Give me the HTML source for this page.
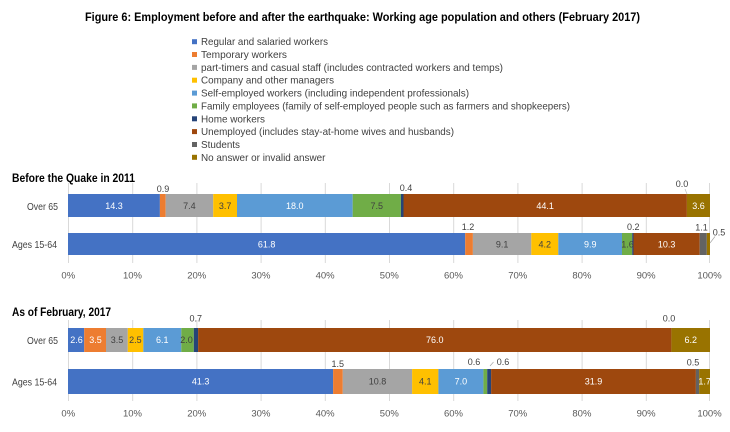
<!DOCTYPE html>
<html><head><meta charset="utf-8"><style>
html,body{margin:0;padding:0;background:#fff;}
svg{display:block;}
text{font-family:"Liberation Sans",sans-serif;}
.t{font-weight:bold;fill:#000;}
.lg{font-size:10.5px;fill:#404040;}
.cat{font-size:10.5px;fill:#404040;}
.tick{font-size:9.5px;fill:#595959;text-anchor:middle;}
.dl{font-size:9px;text-anchor:middle;}
.w{fill:#ffffff;}
.d{fill:#404040;}
.g{stroke:#D9D9D9;stroke-width:1;}
</style></head><body>
<svg width="730" height="432" viewBox="0 0 730 432" xmlns="http://www.w3.org/2000/svg">
<rect width="730" height="432" fill="#fff"/>
<text class="t" x="85" y="21" font-size="12" textLength="555" lengthAdjust="spacingAndGlyphs">Figure 6: Employment before and after the earthquake: Working age population and others (February 2017)</text>

<!-- Legend -->
<g>
<rect x="192" y="39.2" width="5" height="5" fill="#4472C4"/><text class="lg" x="201" y="45.2" textLength="127" lengthAdjust="spacingAndGlyphs">Regular and salaried workers</text>
<rect x="192" y="52" width="5" height="5" fill="#ED7D31"/><text class="lg" x="201" y="58" textLength="86" lengthAdjust="spacingAndGlyphs">Temporary workers</text>
<rect x="192" y="64.9" width="5" height="5" fill="#A5A5A5"/><text class="lg" x="201" y="70.9" textLength="302" lengthAdjust="spacingAndGlyphs">part-timers and casual staff (includes contracted workers and temps)</text>
<rect x="192" y="77.7" width="5" height="5" fill="#FFC000"/><text class="lg" x="201" y="83.7" textLength="133" lengthAdjust="spacingAndGlyphs">Company and other managers</text>
<rect x="192" y="90.6" width="5" height="5" fill="#5B9BD5"/><text class="lg" x="201" y="96.6" textLength="268" lengthAdjust="spacingAndGlyphs">Self-employed workers (including independent professionals)</text>
<rect x="192" y="103.4" width="5" height="5" fill="#70AD47"/><text class="lg" x="201" y="109.4" textLength="369" lengthAdjust="spacingAndGlyphs">Family employees (family of self-employed people such as farmers and shopkeepers)</text>
<rect x="192" y="116.3" width="5" height="5" fill="#264478"/><text class="lg" x="201" y="122.3" textLength="64" lengthAdjust="spacingAndGlyphs">Home workers</text>
<rect x="192" y="129.1" width="5" height="5" fill="#9E480E"/><text class="lg" x="201" y="135.1" textLength="253" lengthAdjust="spacingAndGlyphs">Unemployed (includes stay-at-home wives and husbands)</text>
<rect x="192" y="142" width="5" height="5" fill="#636363"/><text class="lg" x="201" y="148" textLength="39" lengthAdjust="spacingAndGlyphs">Students</text>
<rect x="192" y="154.8" width="5" height="5" fill="#997300"/><text class="lg" x="201" y="160.8" textLength="124.5" lengthAdjust="spacingAndGlyphs">No answer or invalid answer</text>
</g>

<!-- Chart 1 -->
<text class="t" x="12" y="182" font-size="11.5" textLength="123" lengthAdjust="spacingAndGlyphs">Before the Quake in 2011</text>
<g>
<line class="g" x1="68.5" y1="183" x2="68.5" y2="263"/>
<line class="g" x1="132.7" y1="183" x2="132.7" y2="263"/>
<line class="g" x1="196.9" y1="183" x2="196.9" y2="263"/>
<line class="g" x1="261.1" y1="183" x2="261.1" y2="263"/>
<line class="g" x1="325.3" y1="183" x2="325.3" y2="263"/>
<line class="g" x1="389.5" y1="183" x2="389.5" y2="263"/>
<line class="g" x1="453.7" y1="183" x2="453.7" y2="263"/>
<line class="g" x1="517.9" y1="183" x2="517.9" y2="263"/>
<line class="g" x1="582.1" y1="183" x2="582.1" y2="263"/>
<line class="g" x1="646.3" y1="183" x2="646.3" y2="263"/>
<line class="g" x1="709.5" y1="183" x2="709.5" y2="263"/>
</g>
<!-- Over 65 (2011) -->
<g>
<rect x="68" y="194" width="91.9" height="23" fill="#4472C4"/>
<rect x="159.9" y="194" width="5.8" height="23" fill="#ED7D31"/>
<rect x="165.7" y="194" width="47.5" height="23" fill="#A5A5A5"/>
<rect x="213.2" y="194" width="23.8" height="23" fill="#FFC000"/>
<rect x="237" y="194" width="115.7" height="23" fill="#5B9BD5"/>
<rect x="352.7" y="194" width="48.2" height="23" fill="#70AD47"/>
<rect x="400.9" y="194" width="2.6" height="23" fill="#264478"/>
<rect x="403.5" y="194" width="283.4" height="23" fill="#9E480E"/>
<rect x="686.9" y="194" width="23.1" height="23" fill="#997300"/>
<text class="dl w" x="114" y="209">14.3</text>
<text class="dl d" x="189.4" y="209">7.4</text>
<text class="dl d" x="225.1" y="209">3.7</text>
<text class="dl w" x="294.8" y="209">18.0</text>
<text class="dl d" x="376.8" y="209">7.5</text>
<text class="dl w" x="545.2" y="209">44.1</text>
<text class="dl w" x="698.5" y="209">3.6</text>
<text class="dl d" x="163" y="192">0.9</text>
<text class="dl d" x="406" y="191">0.4</text>
<text class="dl d" x="682" y="187">0.0</text>
<line x1="685" y1="189" x2="687" y2="194" stroke="#BFBFBF" stroke-width="0.7"/>
</g>
<!-- Ages 15-64 (2011) -->
<g>
<rect x="68" y="233" width="397.2" height="22" fill="#4472C4"/>
<rect x="465.2" y="233" width="7.7" height="22" fill="#ED7D31"/>
<rect x="472.9" y="233" width="58.4" height="22" fill="#A5A5A5"/>
<rect x="531.3" y="233" width="27" height="22" fill="#FFC000"/>
<rect x="558.3" y="233" width="63.7" height="22" fill="#5B9BD5"/>
<rect x="622" y="233" width="10.2" height="22" fill="#70AD47"/>
<rect x="632.2" y="233" width="1.3" height="22" fill="#264478"/>
<rect x="633.5" y="233" width="66.2" height="22" fill="#9E480E"/>
<rect x="699.7" y="233" width="7.1" height="22" fill="#636363"/>
<rect x="706.8" y="233" width="3.2" height="22" fill="#997300"/>
<text class="dl w" x="266.6" y="247.5">61.8</text>
<text class="dl d" x="502.1" y="247.5">9.1</text>
<text class="dl d" x="544.8" y="247.5">4.2</text>
<text class="dl w" x="590.2" y="247.5">9.9</text>
<text class="dl d" x="627.5" y="247.5">1.6</text>
<text class="dl w" x="666.6" y="247.5">10.3</text>
<text class="dl d" x="468" y="230">1.2</text>
<text class="dl d" x="633.3" y="230">0.2</text>
<text class="dl d" x="701.5" y="230.5">1.1</text>
<text class="dl d" x="719" y="235.5">0.5</text>
<line x1="710" y1="243" x2="715" y2="236.5" stroke="#A6A6A6" stroke-width="0.7"/>
</g>
<text class="cat" x="58" y="210" text-anchor="end" textLength="31" lengthAdjust="spacingAndGlyphs">Over 65</text>
<text class="cat" x="57" y="248" text-anchor="end" textLength="45" lengthAdjust="spacingAndGlyphs">Ages 15-64</text>
<g>
<text class="tick" x="68.3" y="278.5">0%</text>
<text class="tick" x="132.5" y="278.5">10%</text>
<text class="tick" x="196.7" y="278.5">20%</text>
<text class="tick" x="260.9" y="278.5">30%</text>
<text class="tick" x="325.1" y="278.5">40%</text>
<text class="tick" x="389.3" y="278.5">50%</text>
<text class="tick" x="453.5" y="278.5">60%</text>
<text class="tick" x="517.7" y="278.5">70%</text>
<text class="tick" x="581.9" y="278.5">80%</text>
<text class="tick" x="646.1" y="278.5">90%</text>
<text class="tick" x="709.5" y="278.5">100%</text>
</g>

<!-- Chart 2 -->
<text class="t" x="12" y="316" font-size="11.5" textLength="99" lengthAdjust="spacingAndGlyphs">As of February, 2017</text>
<g>
<line class="g" x1="68.5" y1="320" x2="68.5" y2="401"/>
<line class="g" x1="132.7" y1="320" x2="132.7" y2="401"/>
<line class="g" x1="196.9" y1="320" x2="196.9" y2="401"/>
<line class="g" x1="261.1" y1="320" x2="261.1" y2="401"/>
<line class="g" x1="325.3" y1="320" x2="325.3" y2="401"/>
<line class="g" x1="389.5" y1="320" x2="389.5" y2="401"/>
<line class="g" x1="453.7" y1="320" x2="453.7" y2="401"/>
<line class="g" x1="517.9" y1="320" x2="517.9" y2="401"/>
<line class="g" x1="582.1" y1="320" x2="582.1" y2="401"/>
<line class="g" x1="646.3" y1="320" x2="646.3" y2="401"/>
<line class="g" x1="709.5" y1="320" x2="709.5" y2="401"/>
</g>
<!-- Over 65 (2017) -->
<g>
<rect x="68" y="328" width="16.2" height="24" fill="#4472C4"/>
<rect x="84.2" y="328" width="21.8" height="24" fill="#ED7D31"/>
<rect x="106" y="328" width="21.8" height="24" fill="#A5A5A5"/>
<rect x="127.8" y="328" width="15.5" height="24" fill="#FFC000"/>
<rect x="143.3" y="328" width="38" height="24" fill="#5B9BD5"/>
<rect x="181.3" y="328" width="12.5" height="24" fill="#70AD47"/>
<rect x="193.8" y="328" width="4.3" height="24" fill="#264478"/>
<rect x="198.1" y="328" width="473.3" height="24" fill="#9E480E"/>
<rect x="671.4" y="328" width="38.6" height="24" fill="#997300"/>
<text class="dl w" x="76.5" y="343">2.6</text>
<text class="dl w" x="95.5" y="343">3.5</text>
<text class="dl d" x="117" y="343">3.5</text>
<text class="dl d" x="135.4" y="343">2.5</text>
<text class="dl w" x="162.3" y="343">6.1</text>
<text class="dl d" x="186.5" y="343">2.0</text>
<text class="dl w" x="434.8" y="343">76.0</text>
<text class="dl w" x="690.7" y="343">6.2</text>
<text class="dl d" x="195.7" y="321.5">0.7</text>
<text class="dl d" x="669" y="321.5">0.0</text>
</g>
<!-- Ages 15-64 (2017) -->
<g>
<rect x="68" y="369" width="265.1" height="25" fill="#4472C4"/>
<rect x="333.1" y="369" width="9.7" height="25" fill="#ED7D31"/>
<rect x="342.8" y="369" width="69.3" height="25" fill="#A5A5A5"/>
<rect x="412.1" y="369" width="26.3" height="25" fill="#FFC000"/>
<rect x="438.4" y="369" width="45" height="25" fill="#5B9BD5"/>
<rect x="483.4" y="369" width="3.8" height="25" fill="#70AD47"/>
<rect x="487.2" y="369" width="3.9" height="25" fill="#264478"/>
<rect x="491.1" y="369" width="204.8" height="25" fill="#9E480E"/>
<rect x="695.9" y="369" width="3.2" height="25" fill="#636363"/>
<rect x="699.1" y="369" width="10.9" height="25" fill="#997300"/>
<text class="dl w" x="200.6" y="384.5">41.3</text>
<text class="dl d" x="377.5" y="384.5">10.8</text>
<text class="dl d" x="425.3" y="384.5">4.1</text>
<text class="dl w" x="460.9" y="384.5">7.0</text>
<text class="dl w" x="593.5" y="384.5">31.9</text>
<text class="dl w" x="704.6" y="384.5">1.7</text>
<text class="dl d" x="337.7" y="367">1.5</text>
<text class="dl d" x="474" y="365">0.6</text>
<text class="dl d" x="503" y="365">0.6</text>
<line x1="490" y1="366" x2="493.5" y2="362" stroke="#A6A6A6" stroke-width="0.7"/>
<text class="dl d" x="693" y="365.5">0.5</text>
</g>
<text class="cat" x="58" y="344" text-anchor="end" textLength="31" lengthAdjust="spacingAndGlyphs">Over 65</text>
<text class="cat" x="57" y="385.5" text-anchor="end" textLength="45" lengthAdjust="spacingAndGlyphs">Ages 15-64</text>
<g>
<text class="tick" x="68.3" y="416.5">0%</text>
<text class="tick" x="132.5" y="416.5">10%</text>
<text class="tick" x="196.7" y="416.5">20%</text>
<text class="tick" x="260.9" y="416.5">30%</text>
<text class="tick" x="325.1" y="416.5">40%</text>
<text class="tick" x="389.3" y="416.5">50%</text>
<text class="tick" x="453.5" y="416.5">60%</text>
<text class="tick" x="517.7" y="416.5">70%</text>
<text class="tick" x="581.9" y="416.5">80%</text>
<text class="tick" x="646.1" y="416.5">90%</text>
<text class="tick" x="709.5" y="416.5">100%</text>
</g>
</svg>
</body></html>
